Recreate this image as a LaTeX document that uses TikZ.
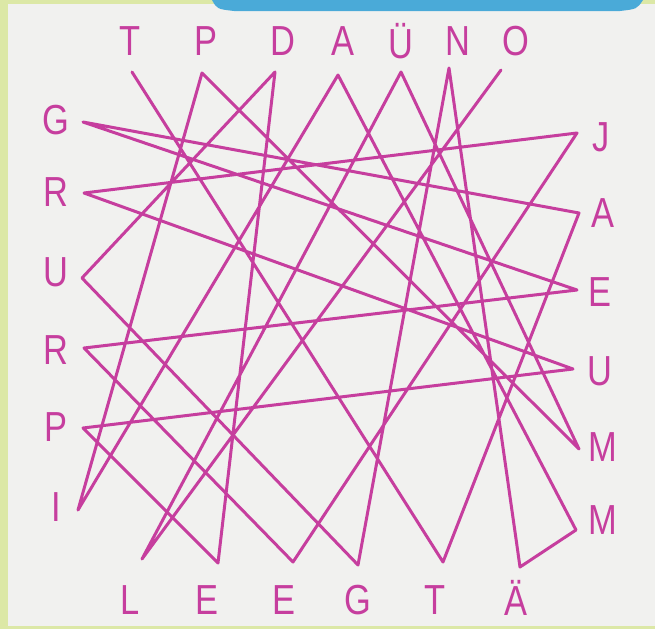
\documentclass[tikz,border=0pt]{standalone}
\usepackage{fontspec}
\setmainfont{Liberation Sans}
\definecolor{mag}{HTML}{C63E9E}
\definecolor{panelbg}{HTML}{F1F1EF}
\definecolor{edgegreen}{HTML}{DCE8A6}
\definecolor{topblue}{HTML}{4AAAD8}
\tikzset{
  lett/.style={text=mag, inner sep=0pt, font=\fontsize{42}{42}\selectfont},
  link/.style={draw=mag, line width=3pt, line join=round, line cap=round}
}
\newcommand{\lt}[1]{\scalebox{0.82}[1]{#1}}
\begin{document}
\begin{tikzpicture}[x=1pt,y=-1pt]
\useasboundingbox (0,0) rectangle (655,629);
\fill[edgegreen] (0,0) rectangle (655,629);
\fill[panelbg] (8,4) rectangle (655,626);
\fill[topblue] (212,0) .. controls (217,9) .. (234,11) -- (620,11) .. controls (637,9) .. (643,0) -- cycle;

% letters
\node[lett] (LT1) at (130,41) {\lt{T}};
\node[lett] (LP1) at (206,41) {\lt{P}};
\node[lett] (LD1) at (283,41) {\lt{D}};
\node[lett] (LA1) at (343,41) {\lt{A}};
\node[lett] (LU1) at (401,41) {\lt{Ü}};
\node[lett] (LN1) at (458,41) {\lt{N}};
\node[lett] (LO1) at (516,41) {\lt{O}};

\node[lett] (LJ2) at (601,137) {\lt{J}};
\node[lett] (LA2) at (603,213) {\lt{A}};
\node[lett] (LE2) at (600,292) {\lt{E}};
\node[lett] (LU2) at (600,371) {\lt{U}};
\node[lett] (LM2) at (603,447) {\lt{M}};
\node[lett] (LM3) at (603,520) {\lt{M}};

\node[lett] (LL3) at (130,600) {\lt{L}};
\node[lett] (LE3) at (207,600) {\lt{E}};
\node[lett] (LE4) at (284,600) {\lt{E}};
\node[lett] (LG3) at (358,600) {\lt{G}};
\node[lett] (LT3) at (435,600) {\lt{T}};
\node[lett] (LA3) at (516,598) {\lt{Ä}};

\node[lett] (LG4) at (56,120) {\lt{G}};
\node[lett] (LR4) at (56,192) {\lt{R}};
\node[lett] (LU4) at (56,272) {\lt{U}};
\node[lett] (LR5) at (56,350) {\lt{R}};
\node[lett] (LP4) at (56,427) {\lt{P}};
\node[lett] (LI4) at (56,507) {\lt{I}};

% line end points
\coordinate (tT) at (132,72);
\coordinate (tP) at (202,73);
\coordinate (tD) at (275,72);
\coordinate (tA) at (338,75);
\coordinate (tUe) at (401,72);
\coordinate (tN) at (449,68);
\coordinate (tO) at (501,70);

\coordinate (rJ) at (577,133);
\coordinate (rA) at (579,213);
\coordinate (rE) at (577,290);
\coordinate (rU) at (573,369);
\coordinate (rM1) at (579,449);
\coordinate (rM2) at (576,530);

\coordinate (bL) at (142,559);
\coordinate (bE1) at (218,563);
\coordinate (bE2) at (293,562);
\coordinate (bG) at (358,565);
\coordinate (bT) at (443,562);
\coordinate (bAe) at (520,567);

\coordinate (lG) at (83,122);
\coordinate (lR1) at (84,193);
\coordinate (lU) at (82,278);
\coordinate (lR2) at (84,348);
\coordinate (lP) at (83,428);
\coordinate (lI) at (78,510);

\draw[link] (tO) -- (bL) -- (tUe) -- (rM1) -- (tP) -- (lI) -- (tA) -- (rM2)
  -- (bAe) -- (tN) -- (bG) -- (lU) -- (tD) -- (bE1) -- (lP) -- (rU) -- (lR1)
  -- (rJ) -- (bE2) -- (lR2) -- (rE) -- (lG) -- (rA) -- (bT) -- (tT);
\end{tikzpicture}
\end{document}
